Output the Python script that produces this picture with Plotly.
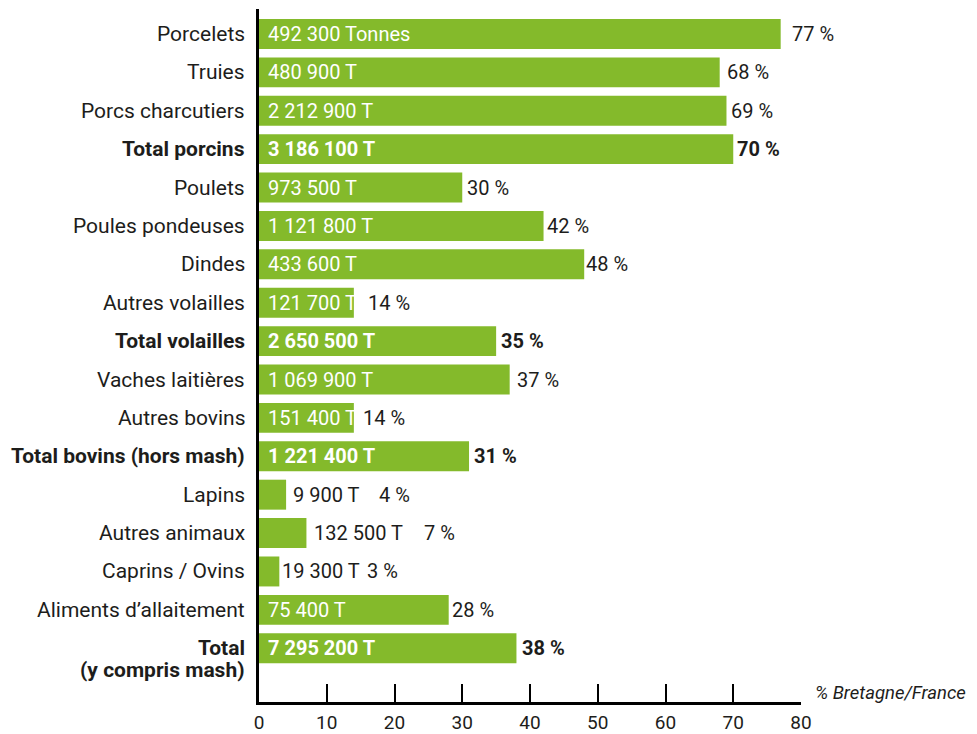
import plotly.graph_objects as go

categories = ["Porcelets", "Truies", "Porcs charcutiers", "Total porcins", "Poulets",
              "Poules pondeuses", "Dindes", "Autres volailles", "Total volailles",
              "Vaches laitières", "Autres bovins", "Total bovins (hors mash)", "Lapins",
              "Autres animaux", "Caprins / Ovins", "Aliments d’allaitement",
              "Total<br>(y compris mash)"]
pct_bretagne_france = [77, 68, 69, 70, 30, 42, 48, 14, 35, 37, 14, 31, 4, 7, 3, 28, 38]
tonnage_labels = ["492 300 Tonnes", "480 900 T", "2 212 900 T", "3 186 100 T", "973 500 T",
                  "1 121 800 T", "433 600 T", "121 700 T", "2 650 500 T", "1 069 900 T",
                  "151 400 T", "1 221 400 T", "9 900 T", "132 500 T", "19 300 T",
                  "75 400 T", "7 295 200 T"]
is_total = [False, False, False, True, False, False, False, False, True,
            False, False, True, False, False, False, False, True]
label_inside = [True] * 12 + [False, False, False] + [True, True]
x_ticks = [0, 10, 20, 30, 40, 50, 60, 70, 80]

# styling: pixel offsets of labels
pct_shift = [11, 7, 5, 4, 5, 3, 2, 14, 5, 7, 9, 5, 93, 118, 88, 3, 6]
outside_shift = {12: 5, 13: 6, 14: 1}

GREEN = "#84ba2b"
DARK = "#1d1d1b"
FONT = "Roboto"
FS = 20
FS_CAT = 21

ypos = list(range(len(categories)))

fig = go.Figure()
fig.add_trace(go.Bar(
    x=pct_bretagne_france, y=ypos, orientation="h",
    marker=dict(color=GREEN, line=dict(width=0)), width=0.78,
    hoverinfo="skip", showlegend=False,
))

ann = []
for i, cat in enumerate(categories):
    b = is_total[i]
    # category label (multi-line labels: one annotation per line)
    for k, line in enumerate(cat.split("<br>")):
        ann.append(dict(x=0, xref="paper", y=i, yref="y",
                        text=("<b>" + line + "</b>") if b else line,
                        xanchor="right", yanchor="middle", xshift=-12, yshift=-22 * k,
                        showarrow=False, font=dict(family=FONT, size=FS_CAT, color=DARK)))
    # tonnage label
    t = ("<b>" + tonnage_labels[i] + "</b>") if b else tonnage_labels[i]
    if label_inside[i]:
        ann.append(dict(x=0, xref="x", y=i, yref="y", text=t, xanchor="left",
                        yanchor="middle", xshift=7, showarrow=False,
                        font=dict(family=FONT, size=FS, color="white")))
    else:
        ann.append(dict(x=pct_bretagne_france[i], xref="x", y=i, yref="y", text=t,
                        xanchor="left", yanchor="middle", xshift=outside_shift[i],
                        showarrow=False, font=dict(family=FONT, size=FS, color=DARK)))
    # percent label
    p = f"{pct_bretagne_france[i]} %"
    ann.append(dict(x=pct_bretagne_france[i], xref="x", y=i, yref="y",
                    text=("<b>" + p + "</b>") if b else p,
                    xanchor="left", yanchor="middle", xshift=pct_shift[i] - 2,
                    showarrow=False, font=dict(family=FONT, size=FS, color=DARK)))

ann.append(dict(x=1, xref="paper", y=0, yref="paper", text="<i>% Bretagne/France</i>",
                xanchor="left", yanchor="middle", xshift=12, yshift=9, showarrow=False,
                font=dict(family=FONT, size=18.5, color=DARK)))

fig.update_layout(
    width=977, height=734,
    margin=dict(l=259, r=176, t=9, b=32, pad=0, autoexpand=False),
    paper_bgcolor="white", plot_bgcolor="white",
    bargap=0.22,
    annotations=ann,
    xaxis=dict(range=[0, 80], tickvals=x_ticks, ticktext=[str(v) for v in x_ticks],
               showgrid=False, zeroline=False, showline=True, linecolor="black",
               linewidth=2.5, ticks="inside", ticklen=18, tickwidth=2, tickcolor="black",
               tickfont=dict(family=FONT, size=19, color=DARK), ticklabelstandoff=1,
               automargin=False, fixedrange=True),
    yaxis=dict(range=[17.4, -0.65], showticklabels=False, showgrid=False,
               zeroline=False, showline=True, linecolor="black", linewidth=3,
               ticks="", automargin=False, fixedrange=True),
)

fig.write_html(
    "out.html",
    config={"displayModeBar": False},
    post_script="document.body.style.margin='0';document.documentElement.style.overflow='hidden';",
)
